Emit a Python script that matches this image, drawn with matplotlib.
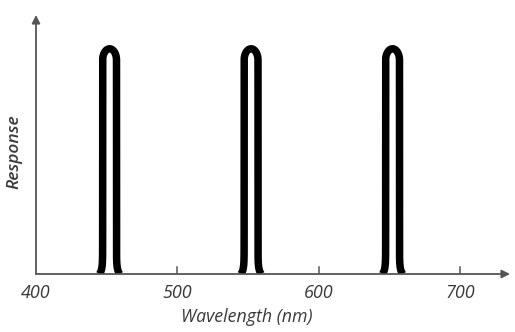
import matplotlib.pyplot as plt
import numpy as np

# three narrow passbands of the detector
band_centers = [452, 552, 652]   # nm
band_halfwidth = 4.9             # nm
band_height = 1.0
tick_values = [500, 600, 700]
tick_labels = ["500", "600", "700"]

AXIS_COLOR = "#555555"
TEXT_COLOR = "#3a3a3a"
CAP = 0.05      # height of the rounded top
FLARE = 2.2     # nm, spread of the foot at the baseline


def band_outline(center):
    # left side up, rounded top, right side down
    y_side = np.linspace(0, band_height - CAP, 120)
    x_side = band_halfwidth + FLARE * np.exp(-y_side / 0.02)
    t = np.linspace(np.pi, 0, 80)
    x_top = band_halfwidth * np.cos(t)
    y_top = band_height - CAP + CAP * np.sin(t)
    x = np.concatenate([center - x_side, center + x_top, center + x_side[::-1]])
    y = np.concatenate([y_side, y_top, y_side[::-1]])
    return x, y


fig = plt.figure(figsize=(5.15, 3.32), dpi=100, facecolor="white")
ax = fig.add_axes([36 / 515, 58 / 332, 474 / 515, 259 / 332])
ax.set_xlim(400, 735)
ax.set_ylim(0, 1.15)
ax.axis("off")

for c in band_centers:
    bx, by = band_outline(c)
    ax.plot(bx, by, color="black", lw=5.4, solid_capstyle="butt",
            solid_joinstyle="round", zorder=3)

# axes drawn as arrows
ax.annotate("", xy=(1.0, 0), xytext=(0, 0), xycoords="axes fraction",
            arrowprops=dict(arrowstyle="-|>", color=AXIS_COLOR, lw=1.3,
                            mutation_scale=12, shrinkA=0, shrinkB=0))
ax.annotate("", xy=(0, 1.0), xytext=(0, 0), xycoords="axes fraction",
            arrowprops=dict(arrowstyle="-|>", color=AXIS_COLOR, lw=1.3,
                            mutation_scale=12, shrinkA=0, shrinkB=0))

for v, lab in zip(tick_values, tick_labels):
    ax.plot([v, v], [0, 0.03], color=AXIS_COLOR, lw=1.1)
    ax.text(v, -0.045, lab, ha="center", va="top", fontsize=13,
            style="italic", family="Open Sans", color=TEXT_COLOR)
ax.text(400, -0.045, "400", ha="center", va="top", fontsize=13,
        style="italic", family="Open Sans", color=TEXT_COLOR)

fig.text(247 / 515, 1 - 317 / 332, "Wavelength (nm)", ha="center", va="center",
         fontsize=12.8, style="italic", family="Open Sans", color=TEXT_COLOR)
fig.text(14 / 515, 1 - 152 / 332, "Response", ha="center", va="center",
         rotation=90, fontsize=12.5, style="italic", fontweight="semibold",
         family="Open Sans", color=TEXT_COLOR)

fig.savefig("out.png", dpi=100, facecolor="white")
